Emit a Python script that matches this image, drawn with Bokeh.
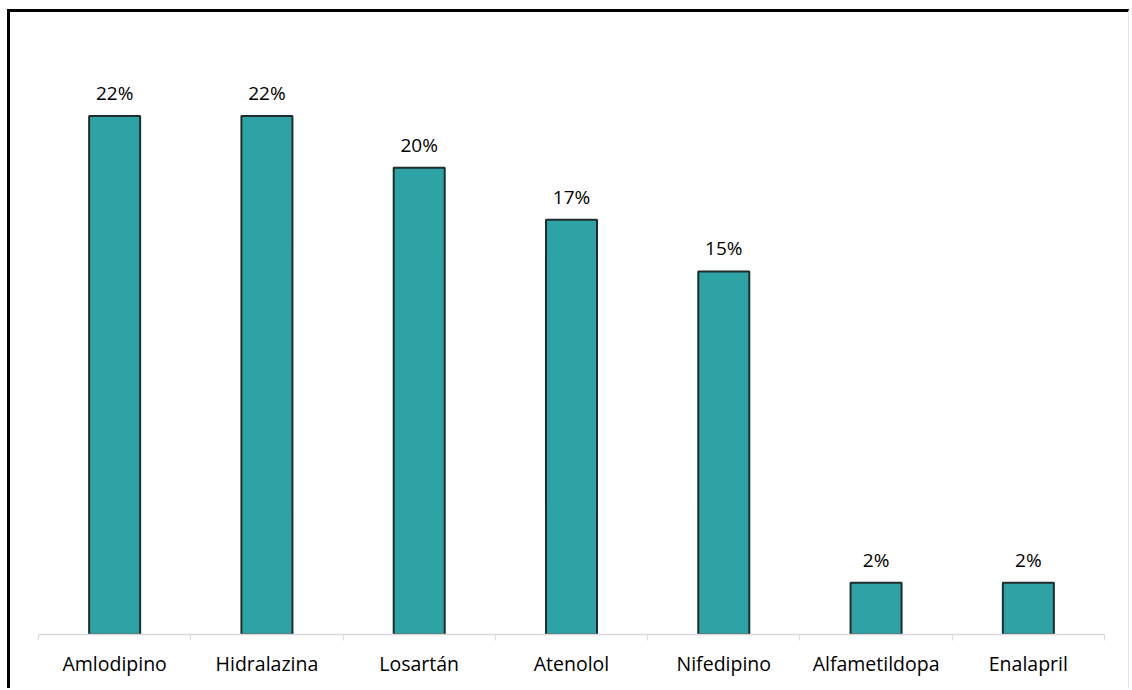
from bokeh.plotting import figure
from bokeh.models import Range1d, FixedTicker, ColumnDataSource, LabelSet
from bokeh.core.properties import value
from bokeh.embed import file_html
from bokeh.resources import INLINE

categories = ["Amlodipino", "Hidralazina", "Losartán", "Atenolol", "Nifedipino", "Alfametildopa", "Enalapril"]
percent = [21.74, 21.74, 19.57, 17.39, 15.22, 2.17, 2.17]
value_labels = ["22%", "22%", "20%", "17%", "15%", "2%", "2%"]

n = len(categories)
xs = [i + 0.5 for i in range(n)]
src = ColumnDataSource(dict(x=xs, top=percent, lab=value_labels, cat=categories))

p = figure(width=1122, height=679, output_backend="svg", toolbar_location=None,
           x_range=Range1d(0, n), y_range=Range1d(0, 24.9),
           min_border_left=28, min_border_right=28, min_border_top=28, min_border_bottom=57,
           margin=(9, 0, 0, 7),
           styles={"border-left": "3px solid #000", "border-top": "3px solid #000",
                   "border-right": "1px solid #e6e6e6"})
p.outline_line_color = None
p.xgrid.visible = False
p.ygrid.visible = False
p.yaxis.visible = False

p.vbar(x="x", top="top", bottom=0, width=0.335, source=src,
       fill_color="#2EA3A5", line_color="#1f2d2d", line_width=2)

labels = LabelSet(x="x", y="top", text="lab", source=src, text_align="center",
                  text_baseline="alphabetic", y_offset=16, text_font_size="19px",
                  text_font=value("Open Sans"), text_color="#000000")
p.add_layout(labels)

ax = p.xaxis[0]
ax.ticker = FixedTicker(ticks=xs, minor_ticks=list(range(n + 1)))
ax.major_label_overrides = {x: c for x, c in zip(xs, categories)}
ax.major_tick_line_color = None
ax.major_tick_out = 0
ax.major_tick_in = 0
ax.minor_tick_line_color = "#d9d9d9"
ax.minor_tick_out = 6
ax.minor_tick_in = 0
ax.axis_line_color = "#d9d9d9"
ax.axis_line_width = 1.5
ax.major_label_text_font = "Open Sans"
ax.major_label_text_font_size = "19.5px"
ax.major_label_text_color = "#000000"
ax.major_label_standoff = 9

open("out.html", "w").write(file_html(p, INLINE))
